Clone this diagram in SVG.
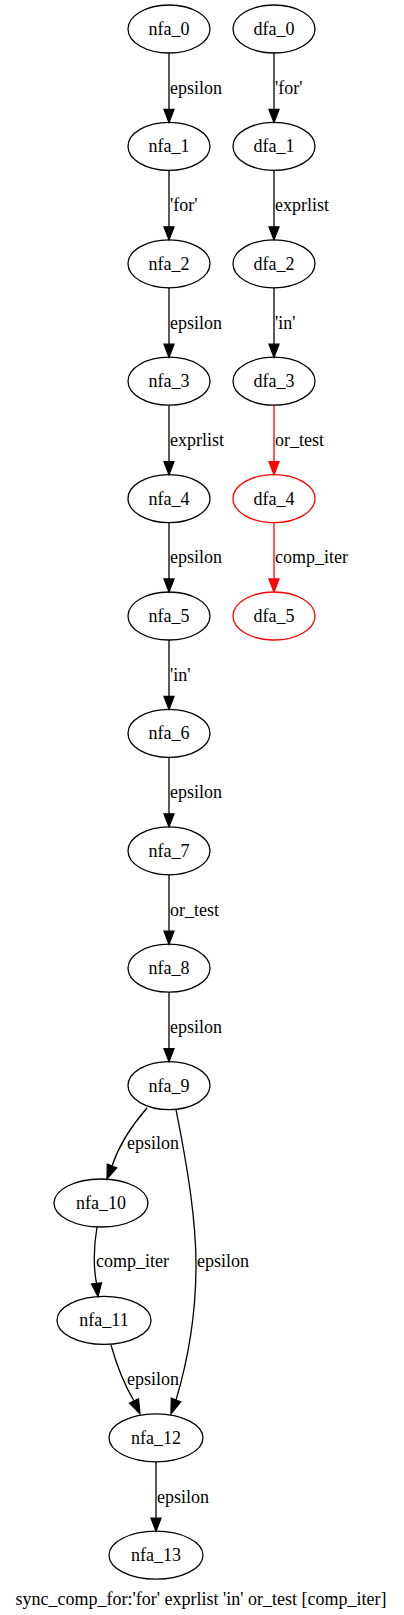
<svg xmlns="http://www.w3.org/2000/svg" width="404" height="1615" viewBox="0 0 404 1615">
<style>
.n ellipse{fill:none;stroke:#000;stroke-width:1.3}
.r ellipse{stroke:#f00}
text{font-family:"Liberation Serif","Times New Roman",serif;font-size:18px;fill:#000}
.n text{text-anchor:middle}
.e path{fill:none;stroke:#000;stroke-width:1.3}
.e polygon{fill:#000;stroke:#000;stroke-width:1.3}
.e.red path{stroke:#f00}
.e.red polygon{fill:#f00;stroke:#f00}
</style>
<rect width="404" height="1615" fill="#fff"/>
<g id="connectors">
<g class="e"><path d="M169,53V109.4"/><polygon points="164,109.4 174,109.4 169,122.4"/><text x="170" y="93.7">epsilon</text></g>
<g class="e"><path d="M169,170.4V226.8"/><polygon points="164,226.8 174,226.8 169,239.8"/><text x="170" y="211.1">'for'</text></g>
<g class="e"><path d="M169,287.8V344.2"/><polygon points="164,344.2 174,344.2 169,357.2"/><text x="170" y="328.5">epsilon</text></g>
<g class="e"><path d="M169,405.2V461.6"/><polygon points="164,461.6 174,461.6 169,474.6"/><text x="170" y="445.9">exprlist</text></g>
<g class="e"><path d="M169,522.6V579"/><polygon points="164,579 174,579 169,592"/><text x="170" y="563.3">epsilon</text></g>
<g class="e"><path d="M169,640V696.4"/><polygon points="164,696.4 174,696.4 169,709.4"/><text x="170" y="680.7">'in'</text></g>
<g class="e"><path d="M169,757.4V813.8"/><polygon points="164,813.8 174,813.8 169,826.8"/><text x="170" y="798.1">epsilon</text></g>
<g class="e"><path d="M169,874.8V931.2"/><polygon points="164,931.2 174,931.2 169,944.2"/><text x="170" y="915.5">or_test</text></g>
<g class="e"><path d="M169,992.2V1048.6"/><polygon points="164,1048.6 174,1048.6 169,1061.6"/><text x="170" y="1032.9">epsilon</text></g>
<g class="e"><path d="M147,1108C133,1124 119,1145 112,1166"/><polygon points="116.7,1167.8 107.3,1164.2 107,1179"/><text x="127" y="1149">epsilon</text></g>
<g class="e"><path d="M176,1109.6C188,1170 196,1220 196,1265C196,1315 188,1360 176,1400"/><polygon points="180.7,1401.8 171.3,1398.2 171,1413.8"/><text x="197" y="1267">epsilon</text></g>
<g class="e"><path d="M97,1227C94,1245 93,1265 96.5,1283.4"/><polygon points="101.5,1282.8 91.5,1284 98,1296.4"/><text x="96" y="1267">comp_iter</text></g>
<g class="e"><path d="M111,1345C116,1363 124,1384 134,1401"/><polygon points="138.5,1398.9 129.5,1403.1 140,1413.8"/><text x="127" y="1385">epsilon</text></g>
<g class="e"><path d="M156,1461.8V1518.2"/><polygon points="151,1518.2 161,1518.2 156,1531.2"/><text x="157" y="1502.5">epsilon</text></g>
<g class="e"><path d="M274,53V109.4"/><polygon points="269,109.4 279,109.4 274,122.4"/><text x="275" y="93.7">'for'</text></g>
<g class="e"><path d="M274,170.4V226.8"/><polygon points="269,226.8 279,226.8 274,239.8"/><text x="275" y="211.1">exprlist</text></g>
<g class="e"><path d="M274,287.8V344.2"/><polygon points="269,344.2 279,344.2 274,357.2"/><text x="275" y="328.5">'in'</text></g>
<g class="e red"><path d="M274,405.2V461.6"/><polygon points="269,461.6 279,461.6 274,474.6"/><text x="275" y="445.9">or_test</text></g>
<g class="e red"><path d="M274,522.6V579"/><polygon points="269,579 279,579 274,592"/><text x="275" y="563.3">comp_iter</text></g>
</g>
<g id="nfa_0" class="n"><ellipse cx="169" cy="29" rx="41" ry="24"/><text x="169" y="35">nfa_0</text></g>
<g id="nfa_1" class="n"><ellipse cx="169" cy="146.4" rx="41" ry="24"/><text x="169" y="152.4">nfa_1</text></g>
<g id="nfa_2" class="n"><ellipse cx="169" cy="263.8" rx="41" ry="24"/><text x="169" y="269.8">nfa_2</text></g>
<g id="nfa_3" class="n"><ellipse cx="169" cy="381.2" rx="41" ry="24"/><text x="169" y="387.2">nfa_3</text></g>
<g id="nfa_4" class="n"><ellipse cx="169" cy="498.6" rx="41" ry="24"/><text x="169" y="504.6">nfa_4</text></g>
<g id="nfa_5" class="n"><ellipse cx="169" cy="616" rx="41" ry="24"/><text x="169" y="622">nfa_5</text></g>
<g id="nfa_6" class="n"><ellipse cx="169" cy="733.4" rx="41" ry="24"/><text x="169" y="739.4">nfa_6</text></g>
<g id="nfa_7" class="n"><ellipse cx="169" cy="850.8" rx="41" ry="24"/><text x="169" y="856.8">nfa_7</text></g>
<g id="nfa_8" class="n"><ellipse cx="169" cy="968.2" rx="41" ry="24"/><text x="169" y="974.2">nfa_8</text></g>
<g id="nfa_9" class="n"><ellipse cx="169" cy="1085.6" rx="41" ry="24"/><text x="169" y="1091.6">nfa_9</text></g>
<g id="nfa_10" class="n"><ellipse cx="101" cy="1203" rx="47" ry="24"/><text x="101" y="1209">nfa_10</text></g>
<g id="nfa_11" class="n"><ellipse cx="104" cy="1320.4" rx="47" ry="24"/><text x="104" y="1326.4">nfa_11</text></g>
<g id="nfa_12" class="n"><ellipse cx="156" cy="1437.8" rx="47" ry="24"/><text x="156" y="1443.8">nfa_12</text></g>
<g id="nfa_13" class="n"><ellipse cx="156" cy="1555.2" rx="47" ry="24"/><text x="156" y="1561.2">nfa_13</text></g>
<g id="dfa_0" class="n"><ellipse cx="274" cy="29" rx="41" ry="24"/><text x="274" y="35">dfa_0</text></g>
<g id="dfa_1" class="n"><ellipse cx="274" cy="146.4" rx="41" ry="24"/><text x="274" y="152.4">dfa_1</text></g>
<g id="dfa_2" class="n"><ellipse cx="274" cy="263.8" rx="41" ry="24"/><text x="274" y="269.8">dfa_2</text></g>
<g id="dfa_3" class="n"><ellipse cx="274" cy="381.2" rx="41" ry="24"/><text x="274" y="387.2">dfa_3</text></g>
<g id="dfa_4" class="n r"><ellipse cx="274" cy="498.6" rx="41" ry="24"/><text x="274" y="504.6">dfa_4</text></g>
<g id="dfa_5" class="n r"><ellipse cx="274" cy="616" rx="41" ry="24"/><text x="274" y="622">dfa_5</text></g>
<text x="201" y="1605" text-anchor="middle">sync_comp_for:'for' exprlist 'in' or_test [comp_iter]</text>
</svg>
